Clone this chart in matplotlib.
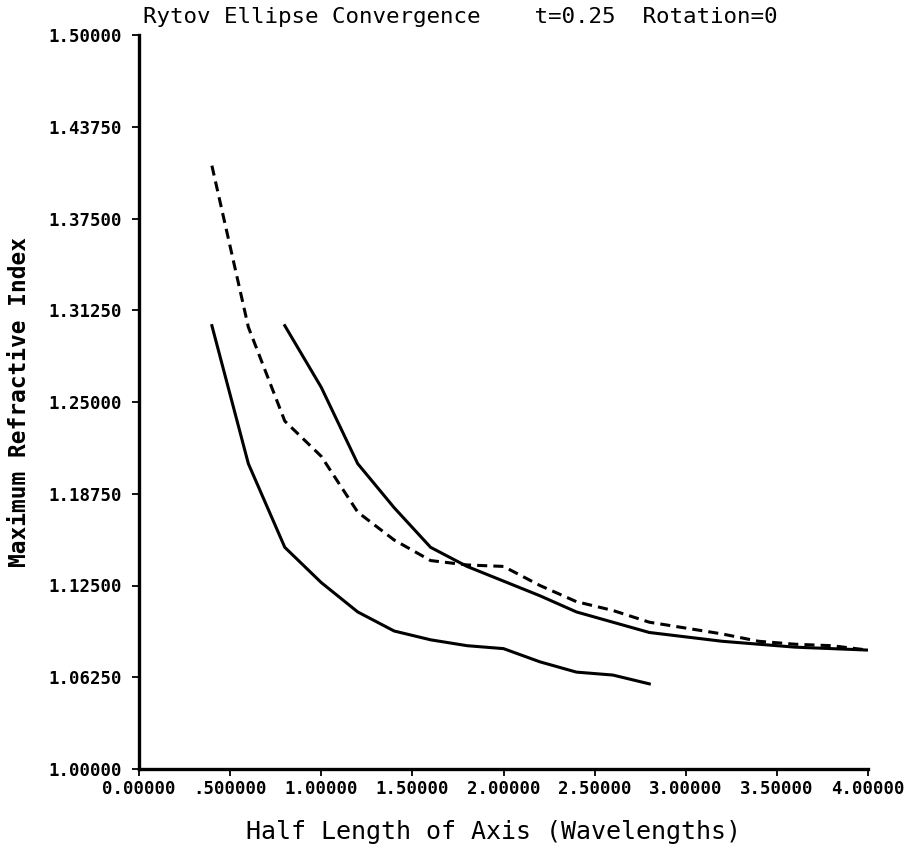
import matplotlib
matplotlib.use("Agg")
import matplotlib.pyplot as plt

# Rytov ellipse convergence: peak refractive index vs. half axis length
x_short = [0.4, 0.6, 0.8, 1.0, 1.2, 1.4, 1.6, 1.8, 2.0, 2.2, 2.4, 2.6, 2.8]
n_short = [1.302, 1.208, 1.151, 1.127, 1.107, 1.094, 1.088, 1.084, 1.082,
           1.073, 1.066, 1.064, 1.058]

x_long = [0.8, 1.0, 1.2, 1.4, 1.6, 1.8, 2.0, 2.2, 2.4, 2.6, 2.8, 3.0, 3.2,
          3.4, 3.6, 3.8, 4.0]
n_long = [1.302, 1.260, 1.208, 1.178, 1.151, 1.138, 1.128, 1.118, 1.107,
          1.100, 1.093, 1.090, 1.087, 1.085, 1.083, 1.082, 1.081]

x_dash = [0.4, 0.6, 0.8, 1.0, 1.2, 1.4, 1.6, 1.8, 2.0, 2.2, 2.4, 2.6, 2.8,
          3.0, 3.2, 3.4, 3.6, 3.8, 4.0]
n_dash = [1.411, 1.301, 1.237, 1.213, 1.175, 1.156, 1.142, 1.139, 1.138,
          1.125, 1.114, 1.108, 1.100, 1.096, 1.092, 1.087, 1.085, 1.084, 1.081]

x_ticks = [0.0, 0.5, 1.0, 1.5, 2.0, 2.5, 3.0, 3.5, 4.0]
x_tick_labels = ["0.00000", ".500000", "1.00000", "1.50000", "2.00000",
                 "2.50000", "3.00000", "3.50000", "4.00000"]
y_ticks = [1.0, 1.0625, 1.125, 1.1875, 1.25, 1.3125, 1.375, 1.4375, 1.5]
y_tick_labels = ["1.00000", "1.06250", "1.12500", "1.18750", "1.25000",
                 "1.31250", "1.37500", "1.43750", "1.50000"]

title_text = "Rytov Ellipse Convergence    t=0.25  Rotation=0"
x_label = "Half Length of Axis (Wavelengths)"
y_label = "Maximum Refractive Index"

mono = "DejaVu Sans Mono"

fig = plt.figure(figsize=(9.07, 8.49), dpi=100)
ax = fig.add_axes([139 / 907, 80 / 849, (868 - 139) / 907, (769 - 35) / 849])

ax.plot(x_short, n_short, color="black", lw=2.2, solid_joinstyle="miter")
ax.plot(x_long, n_long, color="black", lw=2.2, solid_joinstyle="miter")
ax.plot(x_dash, n_dash, color="black", lw=2.2, dashes=(3.3, 2.0),
        dash_capstyle="butt")

ax.set_xlim(0, 4)
ax.set_ylim(1.0, 1.5)

for side in ("top", "right"):
    ax.spines[side].set_visible(False)
for side in ("left", "bottom"):
    ax.spines[side].set_linewidth(2.4)

ax.set_xticks(x_ticks)
ax.set_xticklabels(x_tick_labels, fontfamily=mono, fontweight="bold",
                   fontsize=12.5)
ax.set_yticks(y_ticks)
ax.set_yticklabels(y_tick_labels, fontfamily=mono, fontweight="bold",
                   fontsize=12.5)
ax.tick_params(axis="both", direction="out", length=5, width=1.3,
               color="black", pad=3)
ax.tick_params(axis="y", pad=7)

ax.set_xlabel(x_label, fontfamily=mono, fontsize=18)
ax.xaxis.set_label_coords((493 - 139) / 729, -51 / 734)
ax.set_ylabel(y_label, fontfamily=mono, fontweight="bold", fontsize=16.5)
ax.yaxis.set_label_coords((31 - 139) / 729, 0.5)

fig.text(143 / 907, 1 - 23 / 849, title_text, fontfamily=mono,
         fontsize=16.2, ha="left", va="baseline")

fig.savefig("out.png", dpi=100, facecolor="white")
